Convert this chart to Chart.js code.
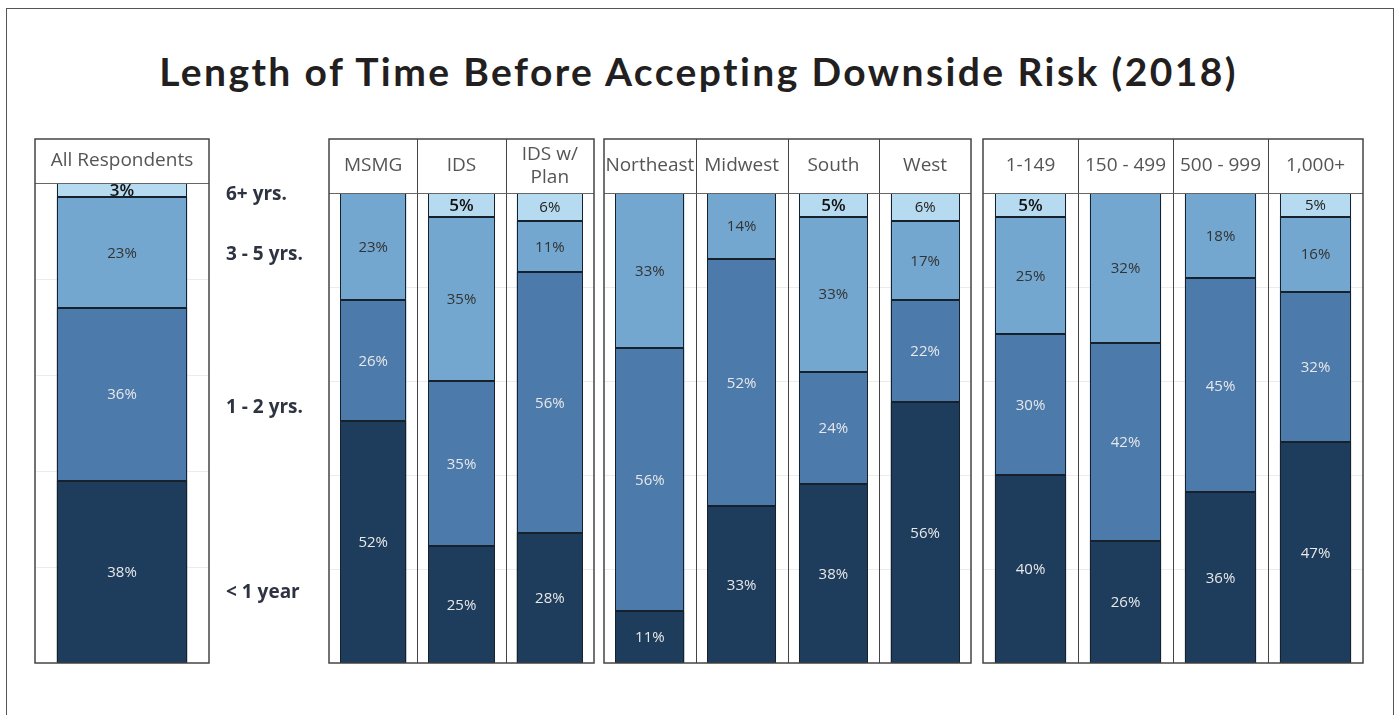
<!DOCTYPE html>
<html>
<head>
<meta charset="utf-8">
<script src="https://cdn.jsdelivr.net/npm/chart.js@4.4.1/dist/chart.umd.min.js"></script>
<style>
    body { margin: 0; background: #fff; width: 1397px; height: 715px; overflow: hidden; position: relative; }
    #frame { position: absolute; left: 6px; top: 8px; width: 1386px; height: 760px; border: 1.5px solid #555; }
    #title { position: absolute; left: 0; width: 1397px; top: 48px; text-align: center;
             font: 700 39px Lato, sans-serif; letter-spacing: 2.4px; color: #231f20; }
    .panel { position: absolute; }
</style>
</head>
<body>
<div id="frame"></div>
<div id="title">Length of Time Before Accepting Downside Risk (2018)</div>
<div class="panel" id="p0"><canvas id="c0"></canvas></div>
<div class="panel" id="p1"><canvas id="c1"></canvas></div>
<div class="panel" id="p2"><canvas id="c2"></canvas></div>
<div class="panel" id="p3"><canvas id="c3"></canvas></div>
<script>
'use strict';

// Categories, one list per panel
const allCats = ['All Respondents'];
const typeCats = ['MSMG', 'IDS', ['IDS w/', 'Plan']];
const regionCats = ['Northeast', 'Midwest', 'South', 'West'];
const sizeCats = ['1-149', '150 - 499', '500 - 999', '1,000+'];

// Series (bottom to top), one value per category in panel order
const seriesNames = ['< 1 year', '1 - 2 yrs.', '3 - 5 yrs.', '6+ yrs.'];
const lessThan1 = [38, 52, 25, 28, 11, 33, 38, 56, 40, 26, 36, 47];
const oneToTwo = [36, 26, 35, 56, 56, 52, 24, 22, 30, 42, 45, 32];
const threeToFive = [23, 23, 35, 11, 33, 14, 33, 17, 25, 32, 18, 16];
const sixPlus = [3, 0, 5, 6, 0, 0, 5, 6, 5, 0, 0, 5];

const series = [lessThan1, oneToTwo, threeToFive, sixPlus];
const colors = ['#1e3d5c', '#4c7aab', '#73a7cf', '#b6daf0'];
const textColors = ['#e8e8e8', '#e8e8e8', '#333', '#222'];
const boldTop = ['All Respondents', 'IDS', 'South', '1-149'];

// Gridlines behind bars
const gridPlugin = {
    id: 'faintGrid',
    beforeDatasetsDraw(chart) {
        const { ctx, chartArea: ca, scales: { y } } = chart;
        ctx.save();
        ctx.strokeStyle = '#ececec';
        ctx.lineWidth = 1;
        [20, 40, 60, 80].forEach(v => {
            const py = Math.round(y.getPixelForValue(v)) + 0.5;
            ctx.beginPath();
            ctx.moveTo(ca.left, py);
            ctx.lineTo(ca.right, py);
            ctx.stroke();
        });
        ctx.restore();
    }
};

// Frame, header row, column separators, header text, segment outlines and labels
const panelPlugin = {
    id: 'panelFrame',
    afterDatasetsDraw(chart, args, opts) {
        const { ctx, chartArea: ca, scales: { x } } = chart;
        const labels = chart.data.labels;
        const headTop = ca.top - opts.headerH;

        // crisp segment outlines
        ctx.save();
        ctx.strokeStyle = '#17212c';
        ctx.lineWidth = 1;
        chart.data.datasets.forEach((ds, di) => {
            chart.getDatasetMeta(di).data.forEach((el, i) => {
                if (!ds.raw[i]) return;
                const l = Math.round(el.x - el.width / 2) + 0.5;
                const r = Math.round(el.x + el.width / 2) - 0.5;
                const t = Math.round(el.y) + 0.5;
                const b = Math.round(el.base) - 0.5;
                ctx.strokeRect(l, t, r - l, b - t);
            });
        });
        ctx.restore();

        // segment labels
        chart.data.datasets.forEach((ds, di) => {
            chart.getDatasetMeta(di).data.forEach((el, i) => {
                const v = ds.raw[i];
                if (!v) return;
                const name = Array.isArray(labels[i]) ? labels[i].join(' ') : labels[i];
                const bold = di === 3 && boldTop.includes(name);
                ctx.save();
                ctx.fillStyle = bold ? '#111' : textColors[di];
                ctx.font = (bold ? '600 17px' : '15px') + ' "Open Sans", sans-serif';
                ctx.textAlign = 'center';
                ctx.textBaseline = 'middle';
                ctx.fillText(v + '%', el.x, (el.y + el.base) / 2 + 1);
                ctx.restore();
            });
        });

        ctx.save();
        ctx.strokeStyle = '#444';
        ctx.lineWidth = 1;
        // column separators
        for (let i = 1; i < labels.length; i++) {
            const bx = Math.round((x.getPixelForValue(i - 1) + x.getPixelForValue(i)) / 2) + 0.5;
            ctx.beginPath();
            ctx.moveTo(bx, headTop);
            ctx.lineTo(bx, ca.bottom);
            ctx.stroke();
        }
        // header bottom line
        ctx.strokeStyle = '#666';
        ctx.beginPath();
        ctx.moveTo(ca.left, Math.round(ca.top) + 0.5);
        ctx.lineTo(ca.right, Math.round(ca.top) + 0.5);
        ctx.stroke();
        // outer frame
        ctx.strokeStyle = '#444';
        ctx.lineWidth = 1.5;
        ctx.strokeRect(ca.left, headTop, ca.width, ca.bottom - headTop);

        // header text
        ctx.fillStyle = '#555';
        ctx.font = opts.headFont + ' "Open Sans", sans-serif';
        ctx.textAlign = 'center';
        ctx.textBaseline = 'middle';
        labels.forEach((lab, i) => {
            const lines = Array.isArray(lab) ? lab : [lab];
            const cx = x.getPixelForValue(i);
            const cy = headTop + opts.headerH / 2;
            lines.forEach((ln, k) => {
                ctx.fillText(ln, cx, cy + (k - (lines.length - 1) / 2) * 23);
            });
        });
        ctx.restore();

        // row labels to the right of the first panel
        if (opts.rowLabels) {
            const y = chart.scales.y;
            ctx.save();
            ctx.fillStyle = '#2d3340';
            ctx.font = '700 19px "Open Sans", sans-serif';
            ctx.textAlign = 'left';
            ctx.textBaseline = 'middle';
            opts.rowLabels.forEach((v, k) => {
                ctx.fillText(seriesNames[k], ca.right + 17, y.getPixelForValue(v));
            });
            ctx.restore();
        }
    }
};

function makePanel(n, cats, start, box) {
    const pad = 2;
    const el = document.getElementById('p' + n);
    const extra = box.extraRight || 0;
    el.style.left = (box.left - pad) + 'px';
    el.style.top = (box.headTop - pad) + 'px';
    el.style.width = (box.right - box.left + 2 * pad + extra) + 'px';
    el.style.height = (box.bottom - box.headTop + 2 * pad) + 'px';

    const idx = cats.map((c, i) => start + i);
    const totals = idx.map(j => series.reduce((s, arr) => s + arr[j], 0));

    const datasets = series.map((arr, di) => ({
        label: seriesNames[di],
        raw: idx.map(j => arr[j]),
        data: idx.map((j, i) => arr[j] / totals[i] * 100),
        backgroundColor: colors[di],
        borderWidth: 0,
        barPercentage: 0.75,
        categoryPercentage: 1
    }));

    new Chart(document.getElementById('c' + n), {
        type: 'bar',
        data: { labels: cats, datasets },
        options: {
            responsive: true,
            maintainAspectRatio: false,
            animation: false,
            layout: {
                padding: {
                    left: pad,
                    right: pad + extra,
                    top: pad + box.plotTop - box.headTop,
                    bottom: pad
                }
            },
            scales: {
                x: { display: false, stacked: true },
                y: { display: false, stacked: true, min: 0, max: 100 }
            },
            plugins: {
                legend: { display: false },
                tooltip: { enabled: false },
                panelFrame: {
                    headerH: box.plotTop - box.headTop,
                    headFont: box.headFont || '19px',
                    rowLabels: box.rowLabels
                }
            }
        },
        plugins: [gridPlugin, panelPlugin]
    });
}

makePanel(0, allCats, 0, { left: 35, right: 209, headTop: 139, plotTop: 183, bottom: 663,
    extraRight: 120, headFont: '19px', rowLabels: [14.6, 53.3, 85, 97.5] });
makePanel(1, typeCats, 1, { left: 329, right: 594, headTop: 139, plotTop: 193, bottom: 663 });
makePanel(2, regionCats, 4, { left: 604, right: 971, headTop: 139, plotTop: 193, bottom: 663 });
makePanel(3, sizeCats, 8, { left: 983, right: 1363, headTop: 139, plotTop: 193, bottom: 663 });
</script>
</body>
</html>
